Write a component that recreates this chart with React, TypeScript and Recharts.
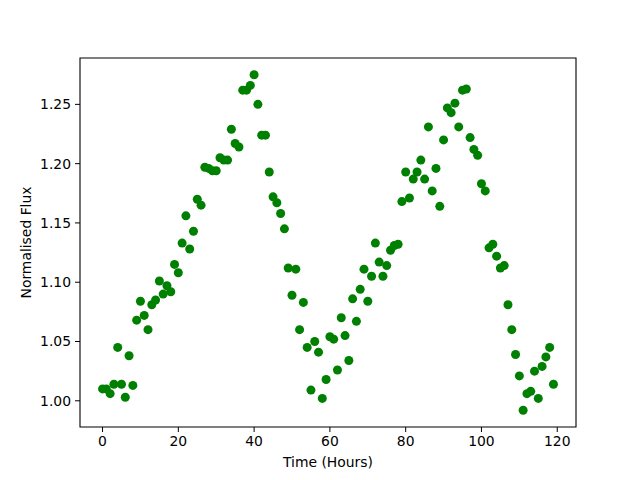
import { ScatterChart, Scatter, XAxis, YAxis, ReferenceArea } from "recharts";

// normalised flux, one reading per hour starting at hour 0
const flux = [
  1.010, 1.010, 1.006, 1.014, 1.045, 1.014, 1.003, 1.038, 1.013, 1.068,
  1.084, 1.072, 1.060, 1.081, 1.085, 1.101, 1.090, 1.097, 1.092, 1.115,
  1.108, 1.133, 1.156, 1.128, 1.143, 1.170, 1.165, 1.197, 1.196, 1.194,
  1.194, 1.205, 1.203, 1.203, 1.229, 1.217, 1.214, 1.262, 1.262, 1.266,
  1.275, 1.250, 1.224, 1.224, 1.193, 1.172, 1.167, 1.158, 1.145, 1.112,
  1.089, 1.111, 1.060, 1.083, 1.045, 1.009, 1.050, 1.041, 1.002, 1.018,
  1.054, 1.052, 1.026, 1.070, 1.055, 1.034, 1.086, 1.067, 1.094, 1.111,
  1.084, 1.105, 1.133, 1.117, 1.105, 1.114, 1.127, 1.131, 1.132, 1.168,
  1.193, 1.171, 1.187, 1.193, 1.203, 1.187, 1.231, 1.177, 1.196, 1.164,
  1.220, 1.247, 1.243, 1.251, 1.231, 1.262, 1.263, 1.222, 1.212, 1.207,
  1.183, 1.177, 1.129, 1.132, 1.122, 1.112, 1.114, 1.081, 1.060, 1.039,
  1.021, 0.992, 1.006, 1.008, 1.025, 1.002, 1.029, 1.037, 1.045, 1.014,
];
const startHour = 0;
const xTicks = [0, 20, 40, 60, 80, 100, 120];
const yTicks = [1.0, 1.05, 1.1, 1.15, 1.2, 1.25];

const data = flux.map((f, i) => ({ hour: startHour + i, flux: f }));

const X_DOMAIN: [number, number] = [-5.95, 124.95];
const Y_DOMAIN: [number, number] = [0.9779, 1.2891];

const font = { fontFamily: "DejaVu Sans", fontSize: 13.9, fill: "#000" };

const Dot = (props: any) => (
  <circle cx={props.cx} cy={props.cy} r={4.5} fill="#008000" />
);

export default function App() {
  return (
    <div style={{ position: "absolute", left: 0, top: 0, width: 640, height: 480, background: "#fff" }}>
      <ScatterChart width={640} height={480} margin={{ top: 58, right: 64, bottom: 0, left: 0 }}>
        <XAxis
          type="number"
          dataKey="hour"
          domain={X_DOMAIN}
          allowDataOverflow
          ticks={xTicks}
          height={53}
          axisLine={false}
          tickLine={{ stroke: "#000" }}
          tickSize={5}
          tickMargin={4}
          tick={font}
          label={{ value: "Time (Hours)", position: "insideBottom", offset: 13, style: font }}
        />
        <YAxis
          type="number"
          dataKey="flux"
          domain={Y_DOMAIN}
          allowDataOverflow
          ticks={yTicks}
          width={80}
          axisLine={false}
          tickLine={{ stroke: "#000" }}
          tickSize={5}
          tickMargin={4}
          tick={font}
          tickFormatter={(v: number) => v.toFixed(2)}
          label={{
            value: "Normalised Flux",
            angle: -90,
            position: "insideLeft",
            offset: 26,
            style: { ...font, textAnchor: "middle" },
          }}
        />
        <Scatter data={data} shape={Dot} isAnimationActive={false} />
        <ReferenceArea
          x1={X_DOMAIN[0]}
          x2={X_DOMAIN[1]}
          y1={Y_DOMAIN[0]}
          y2={Y_DOMAIN[1]}
          fill="none"
          stroke="#000"
          strokeWidth={1.1}
          fillOpacity={0}
        />
      </ScatterChart>
    </div>
  );
}
